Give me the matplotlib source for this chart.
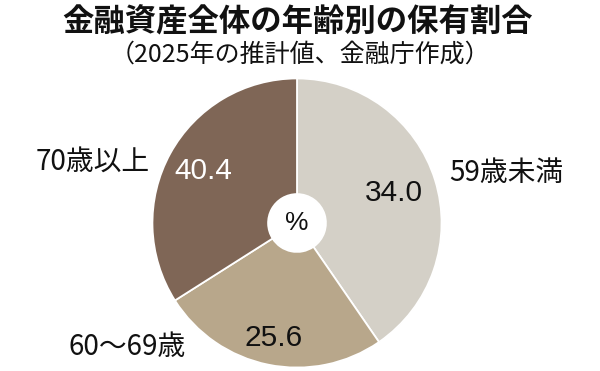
import matplotlib
matplotlib.use('Agg')
import matplotlib.pyplot as plt
import numpy as np

plt.rcParams['font.family'] = ['Noto Sans CJK JP', 'DejaVu Sans']

# datos
categorias = ['59歳未満', '60～69歳', '70歳以上']
etiquetas = ['34.0', '25.6', '40.4']          # valores impresos en el grafico
porciones = [40.4, 25.6, 34.0]                # tamano de las porciones tal como se dibujan
colores = ['#d4d0c7', '#b8a78b', '#7f6656']
color_texto = ['#111111', '#111111', '#ffffff']

titulo = '金融資産全体の年齢別の保有割合'
subtitulo = '（2025年の推計値、金融庁作成）'

fig = plt.figure(figsize=(6, 3.71), dpi=100)
fig.patch.set_facecolor('white')

# centro del pastel en (297, 223) px, radio 146 px
cx, cy, r = 297, 223, 146
W, H = 600, 371
ax = fig.add_axes([(cx - r) / W, (H - cy - r) / H, 2 * r / W, 2 * r / H])
ax.set_aspect('equal')

wedges, _ = ax.pie(porciones, colors=colores, startangle=90, counterclock=False,
                   radius=1, wedgeprops=dict(width=0.8, edgecolor='white', linewidth=1.3))
ax.set_xlim(-1.01, 1.01)
ax.set_ylim(-1.01, 1.01)

# posicion radial de cada numero
dist = [0.70, 0.81, 0.74]
for w, txt, c, d in zip(wedges, etiquetas, color_texto, dist):
    ang = np.deg2rad((w.theta1 + w.theta2) / 2)
    ax.text(d * np.cos(ang), d * np.sin(ang), txt, ha='center', va='center',
            fontsize=21.5, color=c, family=['Liberation Sans', 'DejaVu Sans'])

ax.text(0, 0, '%', ha='center', va='center', fontsize=19, color='#111111',
        family=['Liberation Sans', 'DejaVu Sans'])

# nombres de las categorias
pos_cat = [(506, 173), (127, 347), (93, 162)]
for nombre, (px, py) in zip(categorias, pos_cat):
    fig.text(px / W, 1 - py / H, nombre, ha='center', va='center',
             fontsize=20, color='#111111')

fig.text(298 / W, 1 - 22 / H, titulo, ha='center', va='center', fontsize=22.6,
         fontweight='bold', color='#111111')
fig.text(300 / W, 1 - 55 / H, subtitulo, ha='center', va='center', fontsize=18,
         color='#111111')

fig.savefig('out.png', dpi=100, facecolor='white')
